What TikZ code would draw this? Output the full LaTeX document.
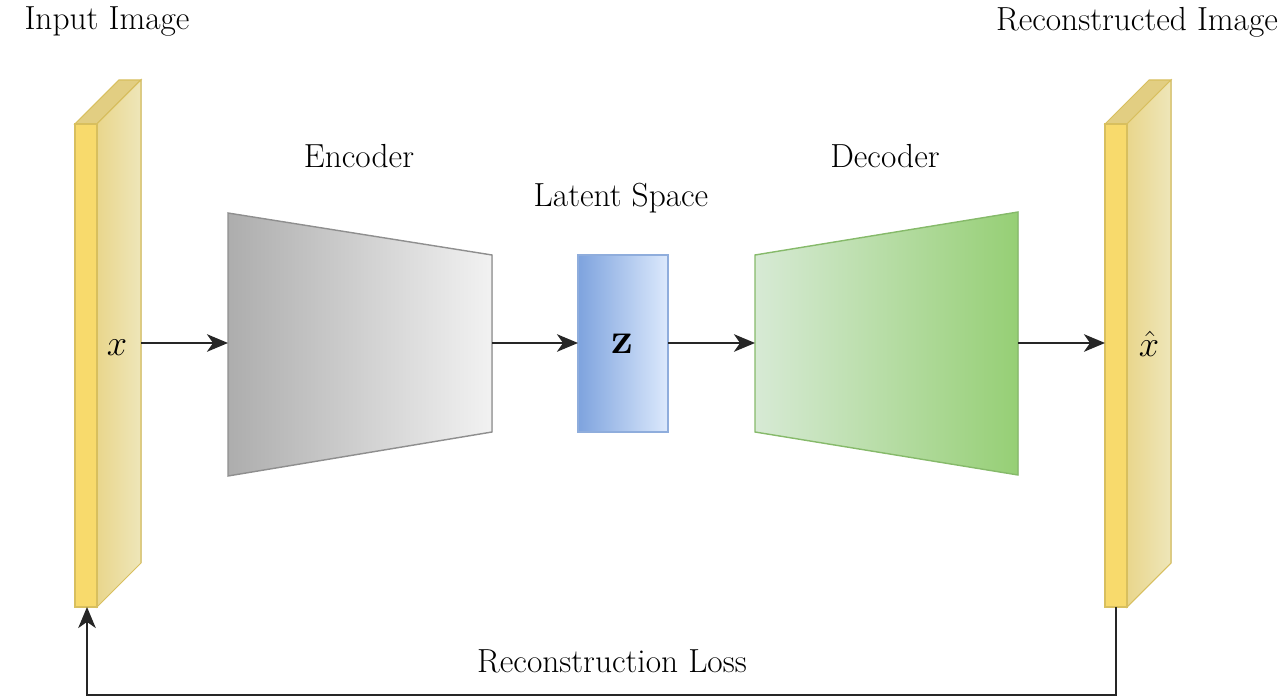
\documentclass[tikz,border=0pt]{standalone}
\usepackage{amsmath}
\usetikzlibrary{arrows.meta}

\definecolor{imgfront}{HTML}{F8DA6C}
\definecolor{imgside}{HTML}{E9D68C}
\definecolor{imgsidelt}{HTML}{EEE6B9}
\definecolor{imgtop}{HTML}{E2CE82}
\definecolor{imgline}{HTML}{D8BF5E}
\definecolor{encdark}{HTML}{ADADAD}
\definecolor{enclight}{HTML}{F2F2F2}
\definecolor{encline}{HTML}{8F8F8F}
\definecolor{latdark}{HTML}{7EA3DE}
\definecolor{latlight}{HTML}{DCE9FC}
\definecolor{latline}{HTML}{8FADDC}
\definecolor{declight}{HTML}{D7EAD5}
\definecolor{decdark}{HTML}{96CF75}
\definecolor{decline}{HTML}{86BA6A}

\tikzset{
  lbl/.style={font=\fontsize{19}{22}\selectfont},
  sym/.style={font=\fontsize{22}{24}\selectfont},
  link/.style={-{Stealth[length=12pt,width=10pt,inset=3.5pt]}, line width=1.1pt, black!85},
}

\begin{document}
\begin{tikzpicture}[x=0.02cm, y=0.02cm]

  \useasboundingbox (0,0) rectangle (1282,700);

  % Image blocks (front, side, top)
  \def\depth{44}
  \foreach \bx/\nm in {75/in, 1105/out} {
    \fill[imgtop, draw=imgline, line width=0.6pt]
      (\bx,576) -- ++(\depth,\depth) -- ++(22,0) -- (\bx+22,576) -- cycle;
    \fill[left color=imgside, right color=imgsidelt, draw=imgline, line width=0.6pt]
      (\bx+22,93) -- (\bx+22,576) -- ++(\depth,\depth) -- ++(0,-483) -- cycle;
    \fill[imgfront, draw=imgline, line width=0.6pt] (\bx,93) rectangle (\bx+22,576);
  }

  % Encoder
  \fill[left color=encdark, right color=enclight, draw=encline, line width=0.8pt]
    (228,224) -- (228,487) -- (492,445) -- (492,268) -- cycle;

  % Latent space
  \fill[left color=latdark, right color=latlight, draw=latline, line width=0.8pt]
    (578,268) rectangle (668,445);

  % Decoder
  \fill[left color=declight, right color=decdark, draw=decline, line width=0.8pt]
    (755,268) -- (755,445) -- (1018,488) -- (1018,225) -- cycle;

  % Anchors
  \coordinate (inside)  at (141,357);
  \coordinate (encin)   at (228,357);
  \coordinate (encout)  at (492,357);
  \coordinate (latin)   at (578,357);
  \coordinate (latout)  at (668,357);
  \coordinate (decin)   at (755,357);
  \coordinate (decout)  at (1018,357);
  \coordinate (outfront) at (1105,357);
  \coordinate (inbot)   at (87,93);
  \coordinate (outbot)  at (1116,93);

  % Symbols
  \node[sym] (xin)  at (117,352) {$x$};
  \node[sym, inner sep=0pt] (xout) at (1149,356) {$\hat{x}$};
  \node[font=\fontsize{27}{29}\selectfont] (zlat) at (622,356) {$\mathbf{z}$};

  % Labels
  \node[lbl] (inlbl)   at (107,678) {Input Image};
  \node[lbl] (outlbl)  at (1137,678) {Reconstructed Image};
  \node[lbl] (enclbl)  at (359,544) {Encoder};
  \node[lbl] (latlbl)  at (621,502) {Latent Space};
  \node[lbl] (declbl)  at (885,544) {Decoder};
  \node[lbl] (losslbl) at (612,39) {Reconstruction Loss};

  % Connectors
  \draw[link] (inside) -- (encin);
  \draw[link] (encout) -- (latin);
  \draw[link] (latout) -- (decin);
  \draw[link] (decout) -- (outfront);
  \draw[link] (outbot) -- (1116,5) -- (87,5) -- (inbot);

\end{tikzpicture}
\end{document}
